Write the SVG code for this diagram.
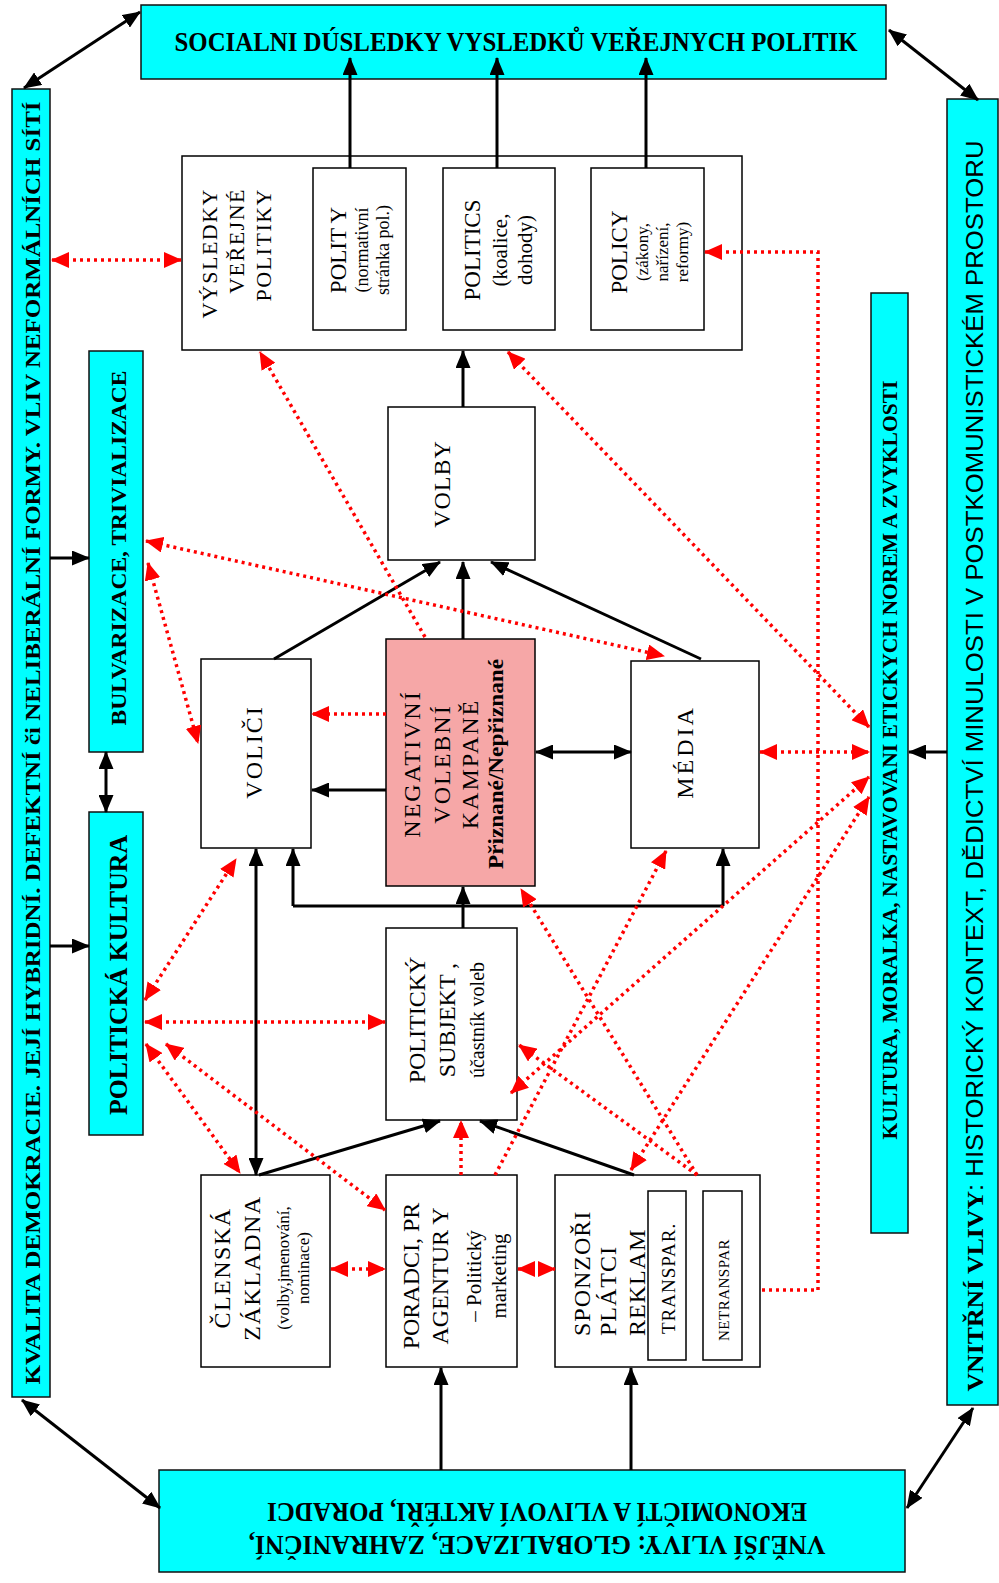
<svg xmlns="http://www.w3.org/2000/svg" width="999" height="1583" viewBox="0 0 999 1583">
<style>
.bar{fill:#00ffff;stroke:#111;stroke-width:1.5}
.box{fill:#fff;stroke:#000;stroke-width:1.5}
.neg{fill:#f6a7a7;stroke:#000;stroke-width:1.5}
.t{font-family:"Liberation Serif","Times New Roman",serif;fill:#000}
.tb{font-family:"Liberation Serif","Times New Roman",serif;font-weight:bold;fill:#000}
.ts{font-family:"Liberation Sans",Arial,sans-serif;fill:#000}
.blk{stroke:#000;stroke-width:3;fill:none}
.red{stroke:#f00;stroke-width:3.5;stroke-dasharray:3 4;fill:none}
</style>
<defs>
<marker id="ab" viewBox="0 0 18 15" refX="17" refY="7.5" markerWidth="18" markerHeight="15" markerUnits="userSpaceOnUse" orient="auto-start-reverse"><path d="M0,0 L18,7.5 L0,15 z" fill="#000"/></marker>
<marker id="ar" viewBox="0 0 18 16" refX="17" refY="8" markerWidth="18" markerHeight="16" markerUnits="userSpaceOnUse" orient="auto-start-reverse"><path d="M0,0 L18,8 L0,16 z" fill="#f00"/></marker>
</defs>

<g id="top-banner">
<rect class="bar" x="141" y="5" width="745" height="74"/>
<text class="tb" x="516" y="51" font-size="27" text-anchor="middle" textLength="683" lengthAdjust="spacingAndGlyphs">SOCIALNI DÚSLEDKY VYSLEDKŮ VEŘEJNYCH POLITIK</text>
</g>

<g id="left-bar">
<rect class="bar" x="12" y="89" width="38" height="1308"/>
<text class="tb" transform="translate(40,743) rotate(-90)" font-size="21" text-anchor="middle" textLength="1283" lengthAdjust="spacingAndGlyphs">KVALITA DEMOKRACIE. JEJÍ HYBRIDNÍ. DEFEKTNÍ či NELIBERÁLNÍ FORMY.  VLIV NEFORMÁLNÍCH SÍTÍ</text>
</g>

<g id="right-bar">
<rect class="bar" x="947" y="99" width="51" height="1306"/>
<text transform="translate(983,766) rotate(-90)" font-size="23" text-anchor="middle" textLength="1251" lengthAdjust="spacingAndGlyphs"><tspan class="tb">VNITŘNÍ VLIVY</tspan><tspan class="ts">: HISTORICKÝ KONTEXT, DĚDICTVÍ MINULOSTI V POSTKOMUNISTICKÉM PROSTORU</tspan></text>
</g>

<g id="bottom-banner">
<rect class="bar" x="159" y="1470" width="746" height="102"/>
<g transform="rotate(180,537,1532)">
<text class="tb" x="537" y="1528" font-size="27" text-anchor="middle" textLength="577" lengthAdjust="spacingAndGlyphs">VNĚJŠÍ VLIVY: GLOBALIZACE, ZAHRANIČNÍ,</text>
<text class="tb" x="537" y="1561" font-size="27" text-anchor="middle" textLength="540" lengthAdjust="spacingAndGlyphs">EKONOMIČTÍ A VLIVOVÍ AKTÉŘI, PORADCI</text>
</g>
</g>

<g id="bulvarizace">
<rect class="bar" x="89" y="351" width="54" height="401"/>
<text class="tb" transform="translate(126,548) rotate(-90)" font-size="22" text-anchor="middle" textLength="355" lengthAdjust="spacingAndGlyphs">BULVARIZACE, TRIVIALIZACE</text>
</g>

<g id="politicka-kultura">
<rect class="bar" x="89" y="812" width="54" height="323"/>
<text class="tb" transform="translate(127,975) rotate(-90)" font-size="25" text-anchor="middle" textLength="280" lengthAdjust="spacingAndGlyphs">POLITICKÁ KULTURA</text>
</g>

<g id="kultura">
<rect class="bar" x="871" y="293" width="37" height="940"/>
<text class="tb" transform="translate(897,760) rotate(-90)" font-size="21" text-anchor="middle" textLength="759" lengthAdjust="spacingAndGlyphs">KULTURA, MORALKA, NASTAVOVANI ETICKYCH NOREM A ZVYKLOSTI</text>
</g>

<g id="vysledky">
<rect class="box" x="182" y="156" width="560" height="194"/>
<text class="t" transform="translate(217,188) rotate(-90)" font-size="22" letter-spacing="1.5" text-anchor="end"><tspan x="0" y="0">VÝSLEDKY</tspan><tspan x="0" y="27">VEŘEJNÉ</tspan><tspan x="0" y="54">POLITIKY</tspan></text>
</g>

<g id="polity">
<rect class="box" x="313" y="168" width="93" height="162"/>
<text class="t" transform="translate(346,250) rotate(-90)" text-anchor="middle"><tspan x="0" y="0" font-size="23">POLIT Y</tspan><tspan x="0" y="22" font-size="18">(normativní</tspan><tspan x="0" y="43" font-size="18">stránka pol.)</tspan></text>
</g>

<g id="politics">
<rect class="box" x="443" y="168" width="112" height="162"/>
<text class="t" transform="translate(480,250) rotate(-90)" text-anchor="middle"><tspan x="0" y="0" font-size="23">POLITICS</tspan><tspan x="0" y="27" font-size="21">(koalice,</tspan><tspan x="0" y="52" font-size="21">dohody)</tspan></text>
</g>

<g id="policy">
<rect class="box" x="591" y="168" width="113" height="162"/>
<text class="t" transform="translate(627,252) rotate(-90)" text-anchor="middle"><tspan x="0" y="0" font-size="23">POLICY</tspan><tspan x="0" y="21" font-size="17">(zákony,</tspan><tspan x="0" y="41" font-size="17">nařízení,</tspan><tspan x="0" y="61" font-size="17">reformy)</tspan></text>
</g>

<g id="volby">
<rect class="box" x="388" y="407" width="147" height="153"/>
<text class="t" transform="translate(450,484) rotate(-90)" font-size="24" letter-spacing="1" text-anchor="middle">VOLBY</text>
</g>

<g id="volici">
<rect class="box" x="201" y="659" width="110" height="189"/>
<text class="t" transform="translate(262,752) rotate(-90)" font-size="24" letter-spacing="2" text-anchor="middle">VOLIČI</text>
</g>

<g id="negativni">
<rect class="neg" x="386" y="639" width="149" height="247"/>
<text class="t" transform="translate(420,764) rotate(-90)" font-size="24" letter-spacing="2" text-anchor="middle"><tspan x="0" y="0">NEGATIVNÍ</tspan><tspan x="0" y="30">VOLEBNÍ</tspan><tspan x="0" y="58">KAMPANĚ</tspan></text>
<text class="tb" transform="translate(503,764) rotate(-90)" font-size="21" text-anchor="middle" textLength="210" lengthAdjust="spacingAndGlyphs">Přiznané/Nepřiznané</text>
</g>

<g id="media">
<rect class="box" x="631" y="661" width="128" height="187"/>
<text class="t" transform="translate(693,752) rotate(-90)" font-size="24" letter-spacing="3" text-anchor="middle">MÉDIA</text>
</g>

<g id="subjekt">
<rect class="box" x="386" y="928" width="131" height="192"/>
<text class="t" transform="translate(425,1020) rotate(-90)" text-anchor="middle"><tspan x="0" y="0" font-size="24">POLITICKÝ</tspan><tspan x="0" y="30" font-size="24">SUBJEKT ,</tspan><tspan x="0" y="59" font-size="20">účastník voleb</tspan></text>
</g>

<g id="clenska">
<rect class="box" x="201" y="1175" width="129" height="192"/>
<text class="t" transform="translate(230,1268) rotate(-90)" text-anchor="middle"><tspan x="0" y="0" font-size="24" letter-spacing="1.5">ČLENSKÁ</tspan><tspan x="0" y="30" font-size="24" letter-spacing="1.5">ZÁKLADNA</tspan><tspan x="0" y="59" font-size="17">(volby,jmenování,</tspan><tspan x="0" y="79" font-size="17">nominace)</tspan></text>
</g>

<g id="poradci">
<rect class="box" x="386" y="1175" width="131" height="192"/>
<text class="t" transform="translate(419,1276) rotate(-90)" text-anchor="middle"><tspan x="0" y="0" font-size="24">PORADCI, PR</tspan><tspan x="0" y="29" font-size="24">AGENTUR Y</tspan><tspan x="0" y="62" font-size="21">– Politický</tspan><tspan x="0" y="87" font-size="21">marketing</tspan></text>
</g>

<g id="sponzori">
<rect class="box" x="555" y="1175" width="205" height="192"/>
<text class="t" transform="translate(590,1336) rotate(-90)" font-size="24" letter-spacing="1" text-anchor="start"><tspan x="0" y="0">SPONZOŘI</tspan><tspan x="0" y="26">PLÁTCI</tspan><tspan x="0" y="55">REKLAM</tspan></text>
</g>

<g id="transpar">
<rect class="box" x="648" y="1191" width="38" height="169"/>
<text class="t" transform="translate(675,1334) rotate(-90)" font-size="19" letter-spacing="1" text-anchor="start">TRANSPAR.</text>
</g>

<g id="netranspar">
<rect class="box" x="703" y="1191" width="39" height="169"/>
<text class="t" transform="translate(729,1290) rotate(-90)" font-size="15" letter-spacing="0.5" text-anchor="middle">NETRANSPAR</text>
</g>

<g id="connectors">
<!-- black -->
<path class="blk" d="M350,168 V58" marker-end="url(#ab)"/>
<path class="blk" d="M497,168 V58" marker-end="url(#ab)"/>
<path class="blk" d="M646,168 V58" marker-end="url(#ab)"/>
<path class="blk" d="M463,407 V351" marker-end="url(#ab)"/>
<path class="blk" d="M274,659 L440,562" marker-end="url(#ab)"/>
<path class="blk" d="M463,639 V562" marker-end="url(#ab)"/>
<path class="blk" d="M701,659 L491,562" marker-end="url(#ab)"/>
<path class="blk" d="M386,790 H312" marker-end="url(#ab)"/>
<path class="blk" d="M536,752 H631" marker-start="url(#ab)" marker-end="url(#ab)"/>
<path class="blk" d="M463,928 V887" marker-end="url(#ab)"/>
<path class="blk" d="M293,906 H723"/>
<path class="blk" d="M293,906 V849" marker-end="url(#ab)"/>
<path class="blk" d="M723,906 V849" marker-end="url(#ab)"/>
<path class="blk" d="M256,1175 V849" marker-start="url(#ab)" marker-end="url(#ab)"/>
<path class="blk" d="M259,1175 L440,1121" marker-end="url(#ab)"/>
<path class="blk" d="M634,1175 L480,1121" marker-end="url(#ab)"/>
<path class="blk" d="M441,1470 V1368" marker-end="url(#ab)"/>
<path class="blk" d="M631,1470 V1368" marker-end="url(#ab)"/>
<path class="blk" d="M50,558 H89" marker-end="url(#ab)"/>
<path class="blk" d="M50,946 H89" marker-end="url(#ab)"/>
<path class="blk" d="M106,752 V812" marker-start="url(#ab)" marker-end="url(#ab)"/>
<path class="blk" d="M947,752 H909" marker-end="url(#ab)"/>
<path class="blk" d="M24,88 L140,12" marker-start="url(#ab)" marker-end="url(#ab)"/>
<path class="blk" d="M889,30 L978,100" marker-start="url(#ab)" marker-end="url(#ab)"/>
<path class="blk" d="M22,1400 L160,1508" marker-start="url(#ab)" marker-end="url(#ab)"/>
<path class="blk" d="M907,1508 L973,1408" marker-start="url(#ab)" marker-end="url(#ab)"/>
<!-- red dotted -->
<path class="red" d="M52,260 H181" marker-start="url(#ar)" marker-end="url(#ar)"/>
<path class="red" d="M762,1290 H818 V252 H705" marker-end="url(#ar)"/>
<path class="red" d="M425,637 L260,352" marker-end="url(#ar)"/>
<path class="red" d="M508,352 L869,727" marker-start="url(#ar)" marker-end="url(#ar)"/>
<path class="red" d="M146,541 L664,656" marker-start="url(#ar)" marker-end="url(#ar)"/>
<path class="red" d="M148,563 L198,743" marker-start="url(#ar)" marker-end="url(#ar)"/>
<path class="red" d="M386,714 H312" marker-end="url(#ar)"/>
<path class="red" d="M760,752 H869" marker-start="url(#ar)" marker-end="url(#ar)"/>
<path class="red" d="M145,1000 L236,859" marker-start="url(#ar)" marker-end="url(#ar)"/>
<path class="red" d="M145,1022 H385" marker-start="url(#ar)" marker-end="url(#ar)"/>
<path class="red" d="M146,1044 L240,1173" marker-start="url(#ar)" marker-end="url(#ar)"/>
<path class="red" d="M166,1044 L385,1210" marker-start="url(#ar)" marker-end="url(#ar)"/>
<path class="red" d="M331,1269 H385" marker-start="url(#ar)" marker-end="url(#ar)"/>
<path class="red" d="M518,1269 H555" marker-start="url(#ar)" marker-end="url(#ar)"/>
<path class="red" d="M461,1175 V1121" marker-end="url(#ar)"/>
<path class="red" d="M495,1175 L666,851" marker-end="url(#ar)"/>
<path class="red" d="M511,1093 L869,777" marker-start="url(#ar)" marker-end="url(#ar)"/>
<path class="red" d="M631,1170 L869,797" marker-start="url(#ar)" marker-end="url(#ar)"/>
<path class="red" d="M697,1175 L521,889" marker-end="url(#ar)"/>
<path class="red" d="M697,1175 L519,1045" marker-end="url(#ar)"/>
</g>
</svg>
